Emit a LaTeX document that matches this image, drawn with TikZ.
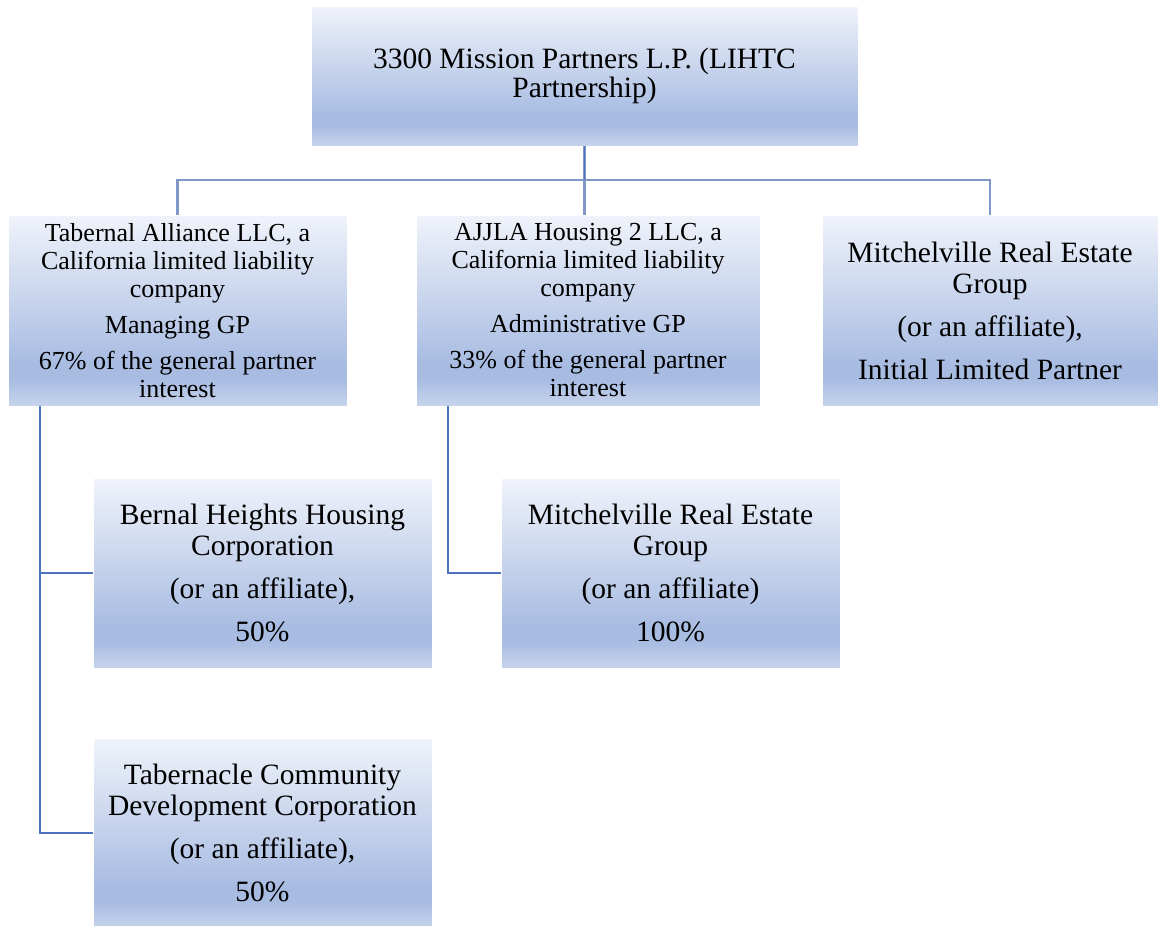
\documentclass[tikz,border=0pt]{standalone}
\usepackage{fontspec}
\setmainfont{Liberation Serif}
\definecolor{btop}{HTML}{F0F3FA}
\definecolor{bdark}{HTML}{A8BCE2}
\definecolor{bbot}{HTML}{C6D4EC}
\definecolor{linecol}{HTML}{4D72C0}
\definecolor{buscol}{HTML}{7F98C8}
\pgfdeclareverticalshading{boxshade}{100bp}{color(0bp)=(bbot); color(25bp)=(bbot); color(32bp)=(bdark); color(36bp)=(bdark); color(75bp)=(btop); color(100bp)=(btop)}
\tikzset{
  orgbox/.style={rectangle, draw=white, line width=0.6pt, shading=boxshade, align=center, inner sep=0pt, text=black},
  bigtext/.style={font=\fontsize{29.5}{31}\selectfont},
  smalltext/.style={font=\fontsize{26}{28}\selectfont},
  link/.style={draw=linecol, line width=1.8pt},
  buslink/.style={draw=buscol, line width=2.6pt}
}
\begin{document}
\begin{tikzpicture}[x=1pt,y=-1pt]
\useasboundingbox[fill=white] (0,0) rectangle (1159,926);
% boxes
\node[orgbox, bigtext, minimum width=547pt, minimum height=140pt] (top) at (584.5,76)
  {\raisebox{6pt}{\shortstack{3300 Mission Partners L.P. (LIHTC\\Partnership)}}};
\node[orgbox, smalltext, minimum width=339pt, minimum height=191pt] (tab) at (177.5,310.5)
  {Tabernal Alliance LLC, a\\California limited liability\\company\\[8pt]Managing GP\\[8pt]67\% of the general partner\\interest};
\node[orgbox, smalltext, minimum width=344pt, minimum height=191pt] (ajj) at (588,310.5)
  {AJJLA Housing 2 LLC, a\\California limited liability\\company\\[8pt]Administrative GP\\[8pt]33\% of the general partner\\interest};
\node[orgbox, bigtext, minimum width=336pt, minimum height=191pt] (lp) at (990,310.5)
  {Mitchelville Real Estate\\Group\\[12pt](or an affiliate),\\[12pt]Initial Limited Partner};
\node[orgbox, bigtext, minimum width=339pt, minimum height=190pt] (ber) at (262.5,573)
  {Bernal Heights Housing\\Corporation\\[12pt](or an affiliate),\\[12pt]50\%};
\node[orgbox, bigtext, minimum width=339pt, minimum height=190pt] (mit) at (670.5,573)
  {Mitchelville Real Estate\\Group\\[12pt](or an affiliate)\\[12pt]100\%};
\node[orgbox, bigtext, minimum width=339pt, minimum height=190pt] (tabc) at (262.5,833)
  {Tabernacle Community\\Development Corporation\\[12pt](or an affiliate),\\[12pt]50\%};
% helper coordinates
\coordinate (bus) at (0,180);
\coordinate (lx) at (40,0);
\coordinate (mx) at (448,0);
% connectors
\draw[buslink] (tab.north) -- (tab.north |- bus) -- (lp.north |- bus) -- (lp.north);
\draw[buslink] (top.south) -- (top.south |- ajj.north);
\draw[link] (top.south) -- (top.south |- bus);
\draw[link] (lx |- tab.south) |- (tabc.west);
\draw[link] (lx |- ber.west) -- (ber.west);
\draw[link] (mx |- ajj.south) |- (mit.west);
\end{tikzpicture}
\end{document}
